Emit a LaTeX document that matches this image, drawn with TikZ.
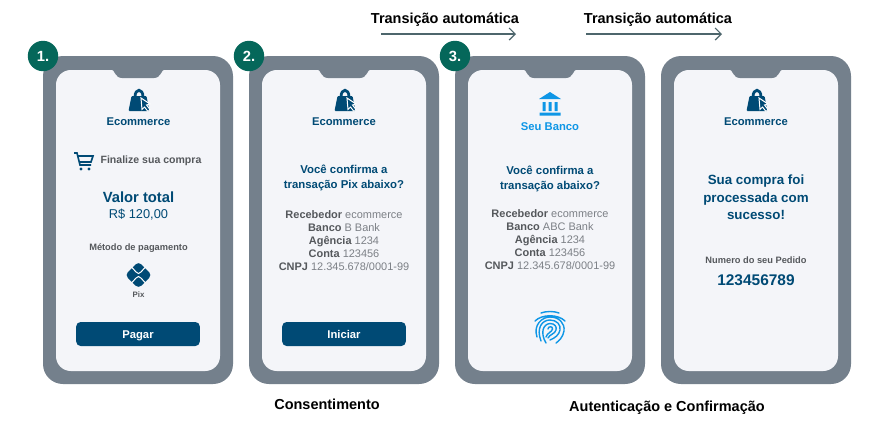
\documentclass[tikz,border=0pt]{standalone}
\usepackage{fontspec}
\setmainfont{Liberation Sans}
\usetikzlibrary{calc,positioning,arrows.meta,math}
\definecolor{framegray}{HTML}{74808C}
\definecolor{screenwhite}{HTML}{F4F5F9}
\definecolor{badgegreen}{HTML}{05675A}
\definecolor{darkblue}{HTML}{004A75}
\definecolor{lightblue}{HTML}{0E96E6}
\definecolor{textgray}{HTML}{55585C}
\definecolor{softgray}{HTML}{7C8086}
\definecolor{arrowgray}{HTML}{4D666C}
\tikzset{
	badge/.style={circle,fill=badgegreen,text=white,minimum size=7.6mm,inner sep=0pt,font=\fontsize{10.5}{12}\selectfont\bfseries},
	paybutton/.style={fill=darkblue,text=white,rounded corners=1.1mm,minimum width=30.9mm,minimum height=6mm,inner sep=0pt,text height=6pt,text depth=0pt,font=\fontsize{8}{10}\selectfont\bfseries},
	title/.style={text=darkblue,inner sep=0pt,font=\fontsize{8}{10}\selectfont\bfseries},
	question/.style={text=darkblue,inner sep=0pt,align=center,font=\fontsize{8.1}{10.9}\selectfont\bfseries},
	details/.style={text=softgray,inner sep=0pt,align=center,font=\fontsize{7.8}{9.1}\selectfont},
	caption/.style={text=black,inner sep=0pt,font=\fontsize{10.3}{12}\selectfont\bfseries},
	small/.style={text=textgray,inner sep=0pt,font=\fontsize{6.6}{8}\selectfont\bfseries},
	autoarrow/.style={draw=arrowgray,line width=0.3mm,-{Straight Barb[length=1.5mm,width=3mm]}},
	phone/.pic={
		\fill[framegray,rounded corners=5mm] (-95,0) rectangle (95,328);
		\fill[screenwhite,rounded corners=3.7mm] (-82,14) rectangle (82,315);
		\fill[framegray] (-27,13) -- (27,13) .. controls (23,14) and (23,22) .. (16,22) -- (-16,22) .. controls (-23,22) and (-23,14) .. (-27,13) -- cycle;
	},
	bag/.pic={
		\fill[darkblue,rounded corners=0.25mm] (-10.5,21)--(-7.5,6)--(7.5,6)--(10.5,21)--cycle;
		\draw[darkblue,line width=0.7mm] (-4,7) .. controls (-4,-2) and (4,-2) .. (4,7);
		\filldraw[fill=darkblue,draw=white,line width=0.25mm] (2,8)--(11,14)--(7.5,15)--(11,19.5)--(9,21.5)--(5.5,17)--(3,19.5)--cycle;
	},
	cart/.pic={
		\draw[darkblue,line width=0.4mm] (0,1)--(3,1)--(6,13)--(17,13) (4,4)--(19,4)--(17,10)--(5.5,10);
		\fill[darkblue] (7,17) circle (1.7) (15,17) circle (1.7);
	},
	bank/.pic={
		\fill[lightblue] (0,-11)--(11,-4)--(-11,-4)--cycle;
		\fill[lightblue] (-7.5,-1) rectangle (-4.5,8) (-1.5,-1) rectangle (1.5,8) (4.5,-1) rectangle (7.5,8) (-10.5,9.5) rectangle (10.5,12.5);
	},
	pixmark/.pic={
		\fill[darkblue,rounded corners=1mm] (0,-13.5)--(13.5,0)--(0,13.5)--(-13.5,0)--cycle;
		\draw[white,line width=0.25mm] (-7,-8) .. controls (-3,-4) and (-2,-1.5) .. (0,-1.5) .. controls (2,-1.5) and (3,-4) .. (7,-8)
			(-7,8) .. controls (-3,4) and (-2,1.5) .. (0,1.5) .. controls (2,1.5) and (3,4) .. (7,8);
	},
	fingerprint/.pic={
		\draw[lightblue,line width=0.35mm,line cap=round]
			(-9,-15) .. controls (-4,-17) and (4,-17) .. (9,-15)
			(-15,-7) .. controls (-8,-14) and (8,-14) .. (15,-7)
			(-13,9) .. controls (-17,-3) and (-8,-11) .. (0,-11) .. controls (9,-11) and (15,-5) .. (14,3) .. controls (13,9) and (9,13) .. (6,15)
			(-9,13) .. controls (-14,0) and (-8,-8) .. (0,-8) .. controls (7,-8) and (11,-3) .. (10,2) .. controls (9,7) and (5,10) .. (0,12)
			(-4,15) .. controls (-10,5) and (-7,-4) .. (0,-4.5) .. controls (5,-4.5) and (7,-1) .. (6,2) .. controls (5,6) and (0,6) .. (-2,10)
			(-2,1) .. controls (-2,-2) and (3,-2) .. (2.5,1) .. controls (2,4) and (-3,5) .. (-4,9);
	},
}
\begin{document}
\begin{tikzpicture}[x=0.25mm,y=-0.25mm]
	\useasboundingbox (0,0) rectangle (890,423);
	\fill[white] (0,0) rectangle (890,423);
	\tikzmath{
		let \x = 206;
		let \y = 412;
		let \z = 618;
	};
	\coordinate (P1) at (138,56);
	\coordinate (P2) at (138+\x,56);
	\coordinate (P3) at (138+\y,56);
	\coordinate (P4) at (138+\z,56);
	\pic at (P1) {phone};
	\pic at (P2) {phone};
	\pic at (P3) {phone};
	\pic at (P4) {phone};
	% badges
	\node[badge] (B1) at (43,56) {1.};
	\node[badge] (B2) at (43+\x,56) {2.};
	\node[badge] (B3) at (43+\y,56) {3.};
	% first phone
	\pic at (139,90) {bag};
	\node[title] (E1) at (138.5,122) {Ecommerce};
	\pic at (74,152) {cart};
	\node[small,font=\fontsize{7.5}{10}\selectfont\bfseries] (F1) at (151,160.5) {Finalize sua compra};
	\node[title,font=\fontsize{10.5}{13}\selectfont\bfseries] (V1) at (138.5,197) {Valor total};
	\node[title,font=\fontsize{9.1}{12}\selectfont] (R1) at (138.5,215) {R\$ 120,00};
	\node[small] (M1) at (138.5,248) {Método de pagamento};
	\pic at (138.5,275) {pixmark};
	\node[small,font=\fontsize{5.6}{7}\selectfont\bfseries] (X1) at (138.5,295) {Pix};
	\node[paybutton] (G1) at (138,334) {Pagar};
	% second phone
	\pic at (139+\x,90) {bag};
	\node[title] (E2) at (138+\x,122) {Ecommerce};
	\node[question] (Q2) at (138+\x,178) {Você confirma a\\transação Pix abaixo?};
	\node[details] (D2) at (138+\x,240.5) {{\color{textgray}\bfseries Recebedor} ecommerce\\{\color{textgray}\bfseries Banco} B Bank\\{\color{textgray}\bfseries Agência} 1234\\{\color{textgray}\bfseries Conta} 123456\\{\color{textgray}\bfseries CNPJ} 12.345.678/0001-99};
	\node[paybutton] (G2) at (138+\x,334) {Iniciar};
	% third phone
	\pic at (138+\y,103) {bank};
	\node[title,text=lightblue] (E3) at (138+\y,127) {Seu Banco};
	\node[question] (Q3) at (138+\y,179) {Você confirma a\\transação abaixo?};
	\node[details] (D3) at (138+\y,239.5) {{\color{textgray}\bfseries Recebedor} ecommerce\\{\color{textgray}\bfseries Banco} ABC Bank\\{\color{textgray}\bfseries Agência} 1234\\{\color{textgray}\bfseries Conta} 123456\\{\color{textgray}\bfseries CNPJ} 12.345.678/0001-99};
	\pic at (138+\y,328) {fingerprint};
	% fourth phone
	\pic at (139+\z,90) {bag};
	\node[title] (E4) at (138+\z,122) {Ecommerce};
	\node[question,font=\fontsize{9.5}{12.5}\selectfont\bfseries] (Q4) at (138+\z,197.5) {Sua compra foi\\processada com\\sucesso!};
	\node[small] (N4) at (138+\z,260) {Numero do seu Pedido};
	\node[title,font=\fontsize{11}{13}\selectfont\bfseries] (C4) at (138+\z,280) {123456789};
	% transitions
	\node[caption] (T1) at (445,19.5) {Transição automática};
	\node[caption] (T2) at (658,19.5) {Transição automática};
	\coordinate (A1) at (381,34);
	\coordinate (S1) at (516,34);
	\coordinate (A2) at (586,34);
	\coordinate (S2) at (722,34);
	\draw[autoarrow] (A1)--(S1);
	\draw[autoarrow] (A2)--(S2);
	% below
	\node[caption] (L1) at (327,404) {Consentimento};
	\node[caption] (L2) at (667,408) {Autenticação e Confirmação};
\end{tikzpicture}
\end{document}
